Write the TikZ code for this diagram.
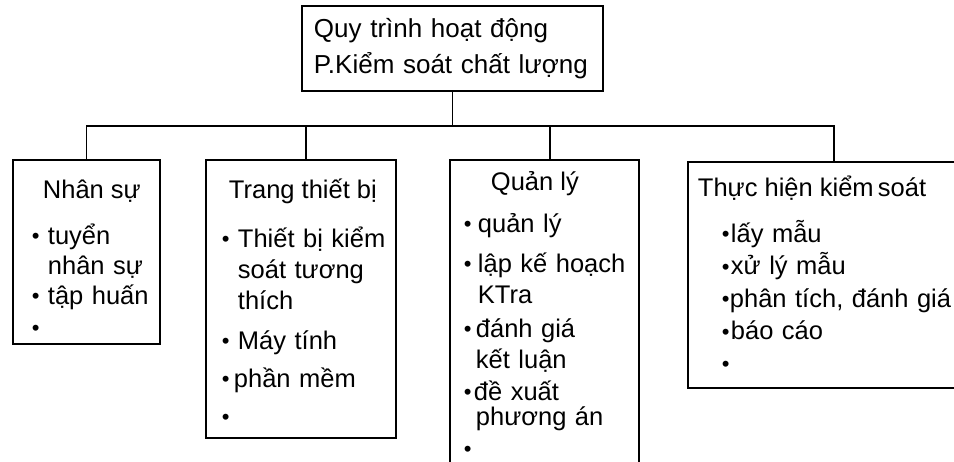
\documentclass[tikz,border=0pt]{standalone}
\usepackage{fontspec}
\setmainfont{Liberation Sans}
\usetikzlibrary{positioning}

\newcommand{\cham}[1][16pt]{\makebox[#1][l]{\raisebox{0.5pt}{\fontsize{22}{22}\selectfont •}}}
\newcommand{\lui}[1][16pt]{\hspace*{#1}}

\begin{document}
\begin{tikzpicture}[x=1pt, y=-1pt, line width=1.9pt,
        khung/.style={rectangle, draw, anchor=north west, inner sep=0pt},
        chu/.style={anchor=base west, inner sep=0pt, align=left, text width=260pt,
                    font=\fontsize{25.5}{#1}\selectfont},
        tieude/.style={anchor=base west, inner sep=0pt, font=\fontsize{25.5}{30}\selectfont}]
        \useasboundingbox (0,0) rectangle (954,461);

        \node[rectangle, draw, anchor=north west, minimum width=301pt, minimum height=85pt,
              text width=277pt, inner xsep=12pt, align=left, font=\fontsize{26}{36}\selectfont]
              (root) at (301,5) {Quy trình hoạt động\\P.Kiểm soát chất lượng};

        \node[khung, minimum width=147pt, minimum height=184pt] (nhansu) at (12,159) {};
        \node[khung, minimum width=190pt, minimum height=278pt] (thietbi) at (205,159) {};
        \node[khung, minimum width=189pt, minimum height=320pt] (quanly) at (449,159) {};
        \node[khung, minimum width=292pt, minimum height=226pt] (thuchien) at (687,161) {};

        % tieu de tung khung
        \node[tieude] (hdNhansu) at (42,198) {Nhân sự};
        \node[tieude] (hdThietbi) at (228,198) {Trang thiết bị};
        \node[tieude] (hdQuanly) at (490,190) {Quản lý};
        \node[tieude] (hdThuchien) at (697,196) {Thực hiện kiểm\,soát};

        % noi dung
        \node[chu=30] (lstNhansu) at (31,244) {\cham tuyển\\ \lui nhân sự\\ \cham tập huấn\\[2pt] \cham};
        \node[chu=31] (lstThietbi) at (221,247) {\cham Thiết bị kiểm\\ \lui soát tương\\ \lui thích\\[9pt]
              \cham Máy tính\\[7pt] \cham[12pt]phần mềm\\[7pt] \cham};
        \node[chu=31] (lstQuanly) at (463,232) {\cham[14pt]quản lý\\[9pt] \cham[14pt]lập kế hoạch\\ \lui[14pt]KTra\\[3pt]
              \cham[12pt]đánh giá\\ \lui[12pt]kết luận\\[1pt] \cham[10pt]đề xuất\\[-6pt] \lui[12pt]phương án\\[1pt] \cham};
        \node[chu=32.5] (lstThuchien) at (721,242) {\cham[9pt]lấy mẫu\\ \cham[9pt]xử lý mẫu\\ \cham[8pt]phân tích, đánh giá\\
              \cham[9pt]báo cáo\\ \cham};

        % duong noi
        \coordinate (truc) at (0,126);
        \draw (root.south) -- (root.south |- truc);
        \draw (nhansu.north) |- (thuchien.north |- truc) -- (thuchien.north);
        \draw ([xshift=5pt]thietbi.north) -- ([xshift=5pt]thietbi.north |- truc);
        \draw ([xshift=5.5pt]quanly.north) -- ([xshift=5.5pt]quanly.north |- truc);
\end{tikzpicture}
\end{document}
